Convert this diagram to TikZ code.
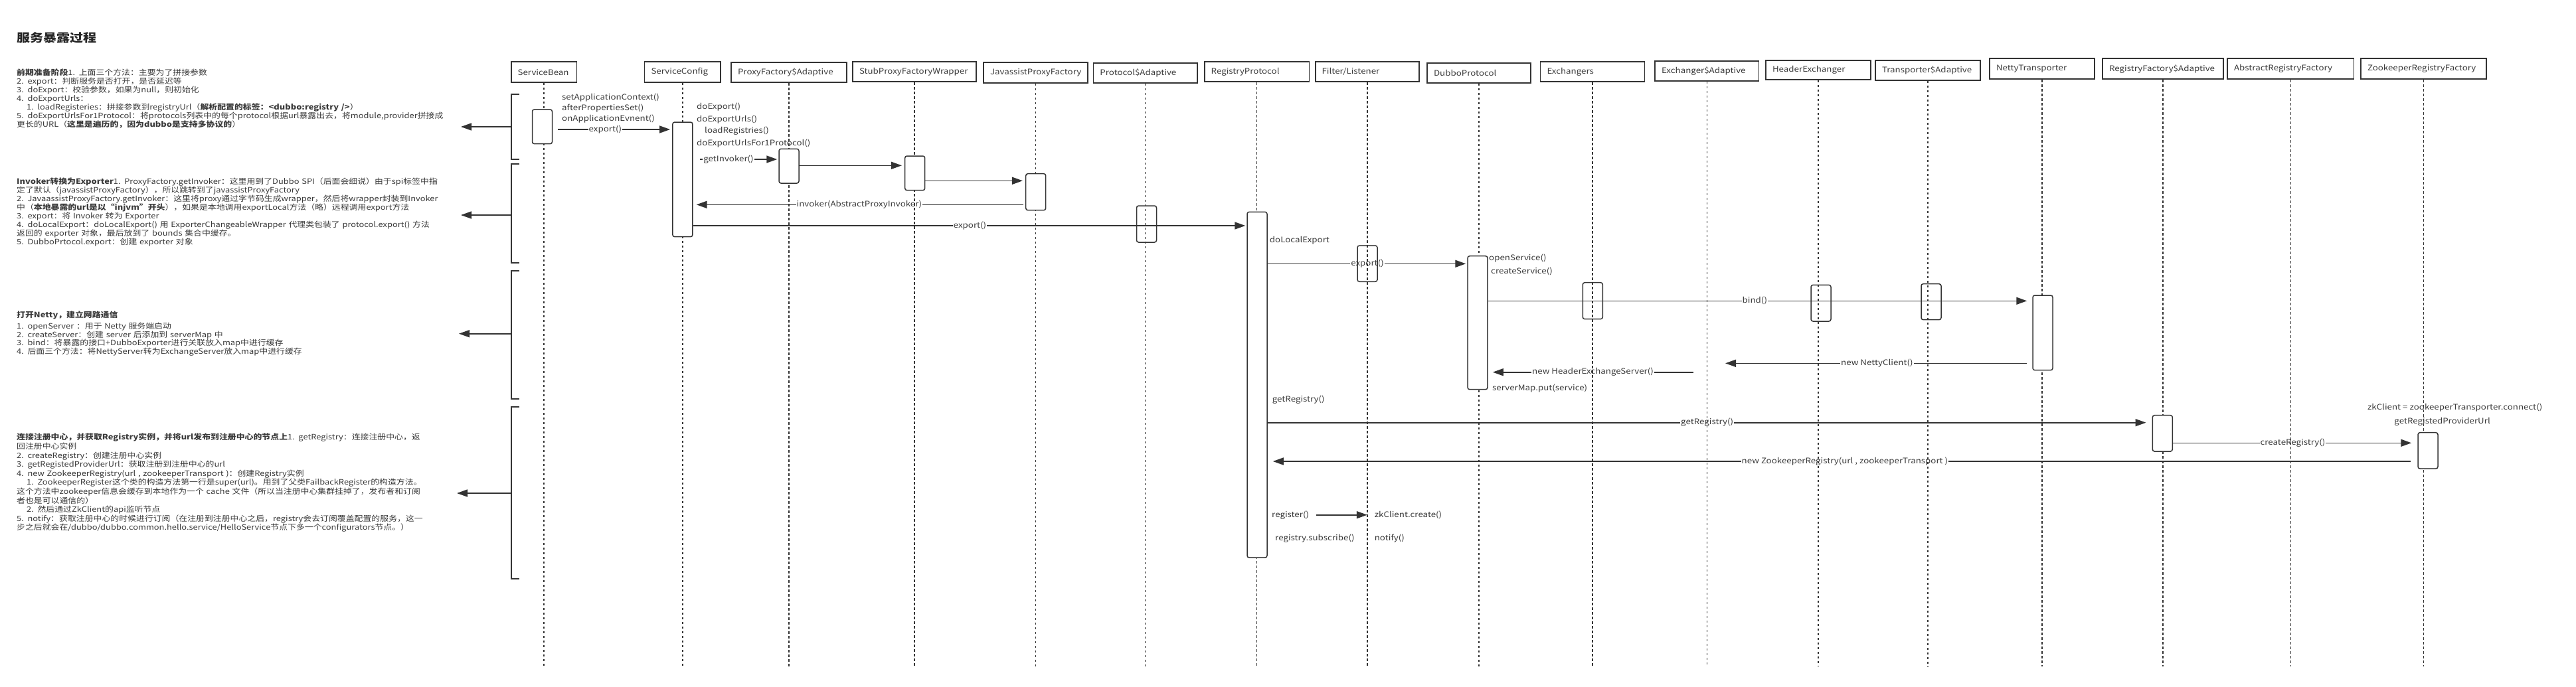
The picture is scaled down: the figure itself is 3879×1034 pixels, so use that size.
\documentclass[tikz,border=0pt]{standalone}
\usepackage{fontspec}
\setmainfont{Noto Sans CJK SC}[FakeStretch=1.15]
\usetikzlibrary{arrows.meta}
\pgfdeclarelayer{bg}
\pgfdeclarelayer{msg}
\pgfdeclarelayer{life}
\pgfsetlayers{bg,msg,life,main}
\definecolor{ink}{HTML}{333333}
\definecolor{txt}{HTML}{3A3A3A}
\newcommand\lblfont{\fontsize{11.6}{14}\selectfont}
\newcommand\ttlfont{\fontsize{17.4}{20}\selectfont\bfseries}
\newcommand\hdrtext[2]{\makebox[#1][l]{#2}}
\begin{document}
\begin{tikzpicture}[x=1pt,y=-1pt,
  hdr/.style={draw=ink, line width=1.8pt, fill=white, inner xsep=10pt, inner ysep=0pt, font=\lblfont, text=txt},
  act/.style={draw=ink, line width=1.5pt, rounded corners=3pt, minimum width=30pt, inner sep=0pt},
  actw/.style={act, fill=white},
  msg/.style={draw=ink, line width=1.6pt, -{Triangle[length=16pt,width=11pt]}},
  lbl/.style={fill=white, inner sep=1pt, font=\lblfont, text=txt, text height=8.5pt, text depth=2.3pt},
  note/.style={font=\lblfont, text=txt, inner sep=0pt, anchor=west, text height=8.5pt, text depth=2.3pt},
  lifeline/.style={draw=ink, line width=1.4pt, dash pattern=on 3.5pt off 3.5pt},
  brk/.style={draw=ink, line width=1.6pt},
  blk/.style={anchor=north west, align=left, inner sep=0pt, text width=760pt, text=txt}
]
\begin{pgfonlayer}{bg}
\fill[white] (0,0) rectangle (3879,1034);
\end{pgfonlayer}
\useasboundingbox (0,0) rectangle (3879,1034);

% title
\node[anchor=west, font=\ttlfont, text=black!85, inner sep=0pt] (title) at (25,56.7) {服务暴露过程};

% text blocks
\node[blk, font=\fontsize{11.2}{12.9}\selectfont] (blk1) at (25,104) {%
\textbf{前期准备阶段}1. 上面三个方法：主要为了拼接参数\\
2. export：判断服务是否打开，是否延迟等\\
3. doExport：校验参数，如果为null，则初始化\\
4. doExportUrls：\\
\hspace*{15pt}1. loadRegisteries：拼接参数到registryUrl（\textbf{解析配置的标签：<dubbo:registry />}）\\
5. doExportUrlsFor1Protocol：将protocols列表中的每个protocol根据url暴露出去，将module,provider拼接成\\
更长的URL（\textbf{这里是遍历的，因为dubbo是支持多协议的}）};

\node[blk, font=\fontsize{11.2}{13.1}\selectfont] (blk2) at (25,267.5) {%
\textbf{Invoker转换为Exporter}1. ProxyFactory.getInvoker：这里用到了Dubbo SPI（后面会细说）由于spi标签中指\\
定了默认（javassistProxyFactory），所以跳转到了javassistProxyFactory\\
2. JavaassistProxyFactory.getInvoker：这里将proxy通过字节码生成wrapper，然后将wrapper封装到Invoker\\
中（\textbf{本地暴露的url是以“injvm”开头}），如果是本地调用exportLocal方法（略）远程调用export方法\\
3. export：将 Invoker 转为 Exporter\\
4. doLocalExport：doLocalExport() 用 ExporterChangeableWrapper 代理类包装了 protocol.export() 方法\\
返回的 exporter 对象，最后放到了 bounds 集合中缓存。\\
5. DubboPrtocol.export：创建 exporter 对象};

\node[blk, font=\fontsize{11.2}{12.8}\selectfont] (blk3) at (25,469) {%
\textbf{打开Netty，建立网路通信}\\[3.5pt]
1. openServer ：用于 Netty 服务端启动\\
2. createServer：创建 server 后添加到 serverMap 中\\
3. bind：将暴露的接口+DubboExporter进行关联放入map中进行缓存\\
4. 后面三个方法：将NettyServer转为ExchangeServer放入map中进行缓存};

\node[blk, font=\fontsize{11.2}{13.6}\selectfont] (blk4) at (25,653) {%
\textbf{连接注册中心，并获取Registry实例，并将url发布到注册中心的节点上}1. getRegistry：连接注册中心，返\\
回注册中心实例\\
2. createRegistry：创建注册中心实例\\
3. getRegistedProviderUrl：获取注册到注册中心的url\\
4. new ZookeeperRegistry(url , zookeeperTransport )：创建Registry实例\\
\hspace*{15pt}1. ZookeeperRegister这个类的构造方法第一行是super(url)。用到了父类FailbackRegister的构造方法。\\
这个方法中zookeeper信息会缓存到本地作为一个 cache 文件（所以当注册中心集群挂掉了，发布者和订阅\\
者也是可以通信的）\\
\hspace*{15pt}2. 然后通过ZkClient的api监听节点\\
5. notify：获取注册中心的时候进行订阅（在注册到注册中心之后，registry会去订阅覆盖配置的服务，这一\\
步之后就会在/dubbo/dubbo.common.hello.service/HelloService节点下多一个configurators节点。）};

% brackets with arrows to the text blocks
\coordinate (b1m) at (770,191);  \coordinate (b1t) at (694,191);
\coordinate (b2m) at (770,324);  \coordinate (b2t) at (694,324);
\coordinate (b3m) at (770,502.7);\coordinate (b3t) at (691,502.7);
\coordinate (b4m) at (770,743);  \coordinate (b4t) at (688,743);
\draw[brk] (782,142) -- (770,142) -- (770,240) -- (782,240);
\draw[brk] (782,247) -- (770,247) -- (770,396) -- (782,396);
\draw[brk] (782,408) -- (770,408) -- (770,601) -- (782,601);
\draw[brk] (782,613) -- (770,613) -- (770,872) -- (782,872);
\draw[msg] (b1m) -- (b1t);
\draw[msg] (b2m) -- (b2t);
\draw[msg] (b3m) -- (b3t);
\draw[msg] (b4m) -- (b4t);

% header boxes
\node[hdr, minimum width=98.8pt, minimum height=30.7pt] (h1) at (819,108.7) {\hdrtext{78.8pt}{ServiceBean}};
\node[hdr, minimum width=114.8pt, minimum height=30.7pt] (h2) at (1027.9,108.7) {\hdrtext{94.8pt}{ServiceConfig}};
\node[hdr, minimum width=174pt, minimum height=30.3pt] (h3) at (1188,109.2) {\hdrtext{154pt}{ProxyFactory\$Adaptive}};
\node[hdr, minimum width=186pt, minimum height=30pt] (h4) at (1377,108.3) {\hdrtext{166pt}{StubProxyFactoryWrapper}};
\node[hdr, minimum width=157pt, minimum height=30.7pt] (h5) at (1559.5,109.7) {\hdrtext{137pt}{JavassistProxyFactory}};
\node[hdr, minimum width=156.5pt, minimum height=30pt] (h6) at (1724.7,110) {\hdrtext{136.5pt}{Protocol\$Adaptive}};
\node[hdr, minimum width=157.8pt, minimum height=30pt] (h7) at (1892.6,108.3) {\hdrtext{137.8pt}{RegistryProtocol}};
\node[hdr, minimum width=156.4pt, minimum height=30pt] (h8) at (2058.8,108.3) {\hdrtext{136.4pt}{Filter/Listener}};
\node[hdr, minimum width=156pt, minimum height=30.3pt] (h9) at (2227,109.8) {\hdrtext{136pt}{DubboProtocol}};
\node[hdr, minimum width=157pt, minimum height=30pt] (h10) at (2398,108.3) {\hdrtext{137pt}{Exchangers}};
\node[hdr, minimum width=156.5pt, minimum height=30pt] (h11) at (2570.3,106.7) {\hdrtext{136.5pt}{Exchanger\$Adaptive}};
\node[hdr, minimum width=158pt, minimum height=29.3pt] (h12) at (2738,105.3) {\hdrtext{138pt}{HeaderExchanger}};
\node[hdr, minimum width=158pt, minimum height=30.3pt] (h13) at (2903,105.8) {\hdrtext{138pt}{Transporter\$Adaptive}};
\node[hdr, minimum width=158pt, minimum height=31pt] (h14) at (3075,103.8) {\hdrtext{138pt}{NettyTransporter}};
\node[hdr, minimum width=182pt, minimum height=31pt] (h15) at (3257,103.8) {\hdrtext{162pt}{RegistryFactory\$Adaptive}};
\node[hdr, minimum width=190.5pt, minimum height=31pt] (h16) at (3449.3,103.8) {\hdrtext{170.5pt}{AbstractRegistryFactory}};
\node[hdr, minimum width=189pt, minimum height=31pt] (h17) at (3649.5,103.8) {\hdrtext{169pt}{ZookeeperRegistryFactory}};

% lifelines
\begin{pgfonlayer}{life}
\foreach \n in {h1,h2,h3,h4,h5,h6,h7,h8,h9,h10,h11,h12,h13,h14,h15,h16,h17}
  \draw[lifeline] (\n.south) -- (\n.south |- 0,1004);
\end{pgfonlayer}

% activation boxes
\node[actw, minimum height=51.7pt] (a1) at (816.5,190.85) {};
\node[actw, minimum height=172.7pt] (a2) at (1027.9,270.35) {};
\node[actw, minimum height=51.7pt] (a3) at (1188,250.15) {};
\node[actw, minimum height=51.7pt] (a4) at (1377.7,260.85) {};
\node[actw, minimum height=55pt] (a5) at (1559.7,289.2) {};
\node[act, minimum height=55pt] (a6) at (1726.5,337.5) {};
\node[actw, minimum height=520.7pt] (a7) at (1893,579.65) {};
\node[act, minimum height=54.3pt] (a8) at (2059,397.15) {};
\node[actw, minimum height=201pt] (a9) at (2225,486.2) {};
\node[act, minimum height=55pt] (a10) at (2398.3,453.2) {};
\node[act, minimum height=54.7pt] (a11) at (2742,456.65) {};
\node[act, minimum height=54pt] (a12) at (2908,454.7) {};
\node[actw, minimum height=112.7pt] (a13) at (3076,501.35) {};
\node[actw, minimum height=54.3pt] (a14) at (3256.3,652.85) {};
\node[actw, minimum height=54.3pt] (a15) at (3656,678.85) {};

% free ends
\coordinate (nc) at (2598,547.3);
\coordinate (hes) at (2550,560.7);
\coordinate (regs) at (1982,775.7);

% messages
\begin{pgfonlayer}{msg}
\draw[msg, shorten <=8pt, shorten >=3pt] (a1.east |- 0,195) -- node[lbl,pos=0.44]{export()} (a2.west |- 0,195);
\draw[msg, shorten <=10pt, shorten >=2pt] (a2.east |- 0,240) -- node[lbl,pos=0.415]{getInvoker()} (a3.west |- 0,240);
\draw[msg, shorten >=4pt] (a3.east |- 0,249.3) -- (a4.west |- 0,249.3);
\draw[msg, shorten >=4pt] (a4.east |- 0,272.3) -- (a5.west |- 0,272.3);
\draw[msg, shorten <=3pt, shorten >=5pt] (a5.west |- 0,308.3) -- node[lbl,pos=0.5]{invoker(AbstractProxyInvoker)} (a2.east |- 0,308.3);
\draw[msg, shorten >=2pt] (a2.east |- 0,340) -- node[lbl,pos=0.5]{export()} (a7.west |- 0,340);
\draw[msg, shorten >=2pt] (a7.east |- 0,397.3) -- node[lbl,pos=0.5]{export()} (a9.west |- 0,397.3);
\draw[msg, shorten >=8pt] (a9.east |- 0,453.3) -- node[lbl,pos=0.49]{bind()} (a13.west |- 0,453.3);
\draw[msg, shorten <=8pt] (a13.west |- 0,547.3) -- node[lbl,pos=0.506]{new NettyClient()} (nc);
\draw[msg, shorten >=7pt] (hes) -- node[lbl,pos=0.49]{new HeaderExchangeServer()} (a9.east |- 0,560.7);
\draw[msg, shorten >=9pt] (a7.east |- 0,636.7) -- node[lbl,pos=0.497]{getRegistry()} (a14.west |- 0,636.7);
\draw[msg, shorten >=9pt] (a14.east |- 0,667.3) -- node[lbl,pos=0.49]{createRegistry()} (a15.west |- 0,667.3);
\draw[msg, shorten <=10pt, shorten >=8pt] (a15.west |- 0,695) -- node[lbl,pos=0.498]{new ZookeeperRegistry(url , zookeeperTransport )} (a7.east |- 0,695);
\draw[msg] (regs) -- (h8.south |- regs);
\end{pgfonlayer}

% notes
\node[note] (n1) at (846,147.7) {setApplicationContext()};
\node[note] (n2) at (846,163.3) {afterPropertiesSet()};
\node[note] (n3) at (846,179.3) {onApplicationEvnent()};
\node[note] (n4) at (1049,161.7) {doExport()};
\node[note] (n5) at (1049,180.7) {doExportUrls()};
\node[note] (n6) at (1061,197.3) {loadRegistries()};
\node[note] (n7) at (1049,216.7) {doExportUrlsFor1Protocol()};
\node[note] (n8) at (1911.7,362.7) {doLocalExport};
\node[note] (n9) at (2242,389.3) {openService()};
\node[note] (n10) at (2245,409.3) {createService()};
\node[note] (n11) at (2247,585) {serverMap.put(service)};
\node[note] (n12) at (1915.6,602.7) {getRegistry()};
\node[note, anchor=center] (n13) at (3696.6,614.3) {zkClient = zookeeperTransporter.connect()};
\node[note, anchor=center] (n14) at (3677.6,635) {getRegistedProviderUrl};
\node[note] (n15) at (1915,776.7) {register()};
\node[note] (n16) at (2069.6,776.7) {zkClient.create()};
\node[note] (n17) at (1920,811.7) {registry.subscribe()};
\node[note] (n18) at (2069.6,811.7) {notify()};
\end{tikzpicture}
\end{document}
